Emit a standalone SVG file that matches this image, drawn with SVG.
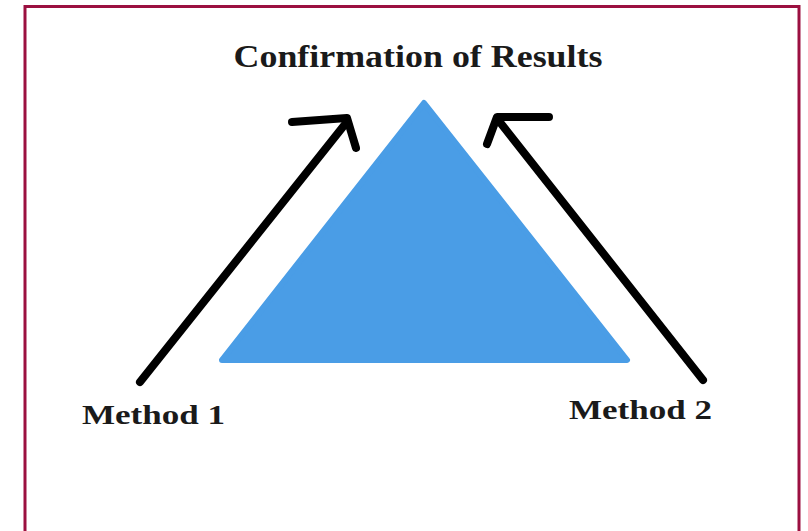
<svg xmlns="http://www.w3.org/2000/svg" width="808" height="531" viewBox="0 0 808 531">
<style>
.lbl{font-family:"Liberation Serif","DejaVu Serif",serif;font-weight:bold;fill:#1a1a1a}
.arr{fill:none;stroke:#000;stroke-width:8;stroke-linecap:round;stroke-linejoin:round}
</style>
<rect x="0" y="0" width="808" height="531" fill="#fff"/>
<rect x="25" y="6.5" width="774" height="530" fill="none" stroke="#9b1040" stroke-width="3"/>
<g id="triangle">
<path d="M424,103 L627,360 L222,360 Z" fill="#4a9de6" stroke="#4a9de6" stroke-width="6" stroke-linejoin="round"/>
</g>
<g id="title"><text class="lbl" x="418" y="67" font-size="31" text-anchor="middle" textLength="369" lengthAdjust="spacingAndGlyphs">Confirmation of Results</text></g>
<g id="method1"><text class="lbl" x="82" y="424" font-size="28" textLength="143" lengthAdjust="spacingAndGlyphs">Method 1</text></g>
<g id="method2"><text class="lbl" x="569" y="419" font-size="28" textLength="143" lengthAdjust="spacingAndGlyphs">Method 2</text></g>
<g id="connectors">
<path class="arr" d="M140,382 L346,123"/>
<path class="arr" d="M292,122 L347,118 L356,148"/>
<path class="arr" d="M703,380 L499,121"/>
<path class="arr" d="M549,117 L497,117 L487,144"/>
</g>
</svg>
